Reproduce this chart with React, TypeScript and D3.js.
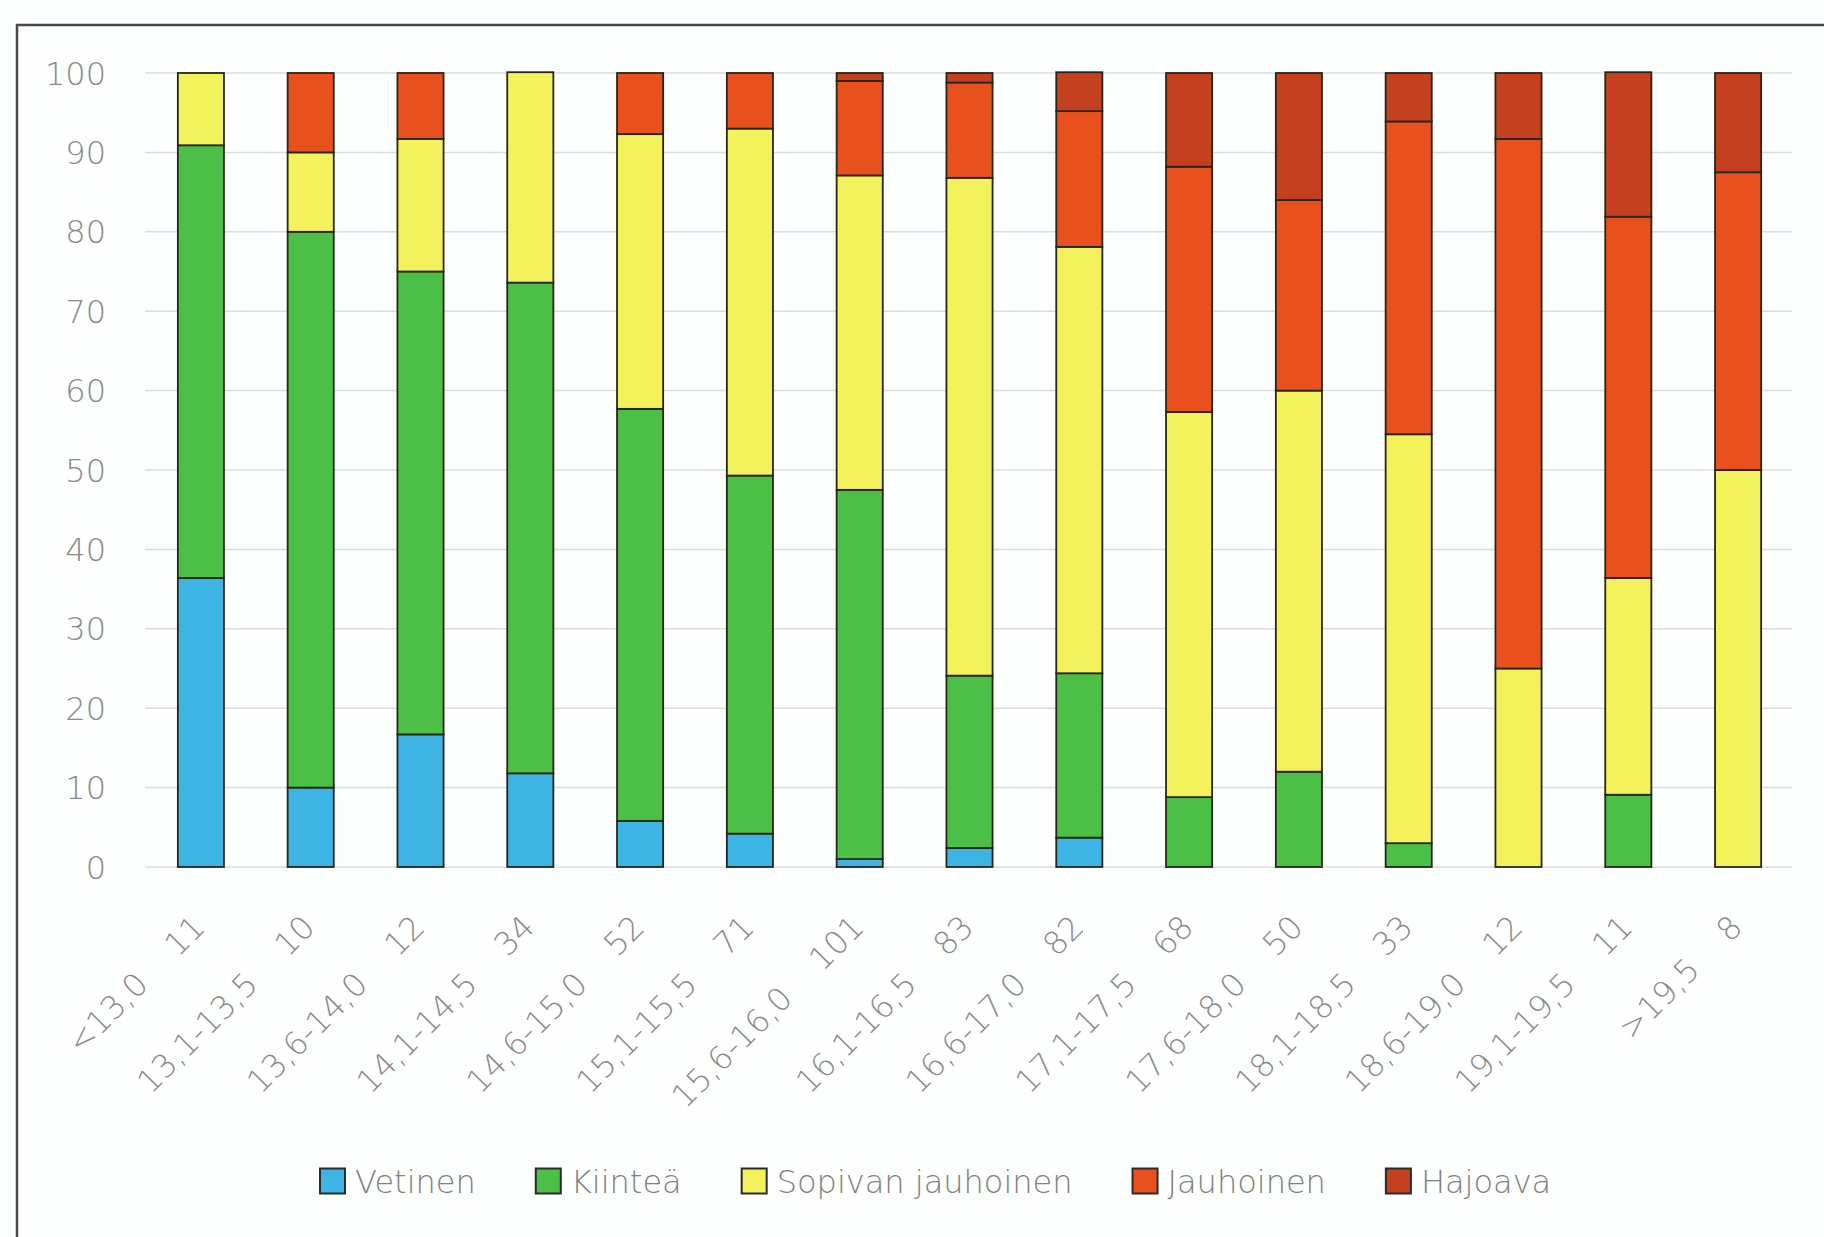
import * as React from 'react';
import * as d3 from 'd3';

const categories = ['<13,0', '13,1-13,5', '13,6-14,0', '14,1-14,5', '14,6-15,0', '15,1-15,5', '15,6-16,0',
  '16,1-16,5', '16,6-17,0', '17,1-17,5', '17,6-18,0', '18,1-18,5', '18,6-19,0', '19,1-19,5', '>19,5'];
const counts = [11, 10, 12, 34, 52, 71, 101, 83, 82, 68, 50, 33, 12, 11, 8];

const vetinen = [36.4, 10, 16.7, 11.8, 5.8, 4.2, 1.0, 2.4, 3.7, 0, 0, 0, 0, 0, 0];
const kiintea = [54.5, 70, 58.3, 61.8, 51.9, 45.1, 46.5, 21.7, 20.7, 8.8, 12, 3.0, 0, 9.1, 0];
const sopivan = [9.1, 10, 16.7, 26.5, 34.6, 43.7, 39.6, 62.7, 53.7, 48.5, 48, 51.5, 25, 27.3, 50];
const jauhoinen = [0, 10, 8.3, 0, 7.7, 7.0, 11.9, 12.0, 17.1, 30.9, 24, 39.4, 66.7, 45.5, 37.5];
const hajoava = [0, 0, 0, 0, 0, 0, 1.0, 1.2, 4.9, 11.8, 16, 6.1, 8.3, 18.2, 12.5];

const seriesNames = ['Vetinen', 'Kiinteä', 'Sopivan jauhoinen', 'Jauhoinen', 'Hajoava'];
const seriesValues = [vetinen, kiintea, sopivan, jauhoinen, hajoava];
const seriesColors = ['#3db4e4', '#4cbf47', '#f4f25c', '#e8501d', '#c4401f'];
const yTicks = [0, 10, 20, 30, 40, 50, 60, 70, 80, 90, 100];

const W = 1824;
const H = 1237;
const plotLeft = 145;
const plotRight = 1792;
const font = "'DejaVu Sans', 'Liberation Sans', sans-serif";

export default function App() {
  const legendRef = React.useRef() as React.MutableRefObject<any>;

  const x = d3.scaleBand<string>().domain(categories).range([plotLeft + 1, plotRight + 1])
    .paddingInner(0.58).paddingOuter(0.29);
  const y = d3.scaleLinear().domain([0, 100]).range([867, 73]);

  const rows = categories.map((c, i) => {
    const r: any = { cat: c };
    seriesNames.forEach((s, k) => { r[s] = seriesValues[k][i]; });
    return r;
  });
  const stacked = d3.stack().keys(seriesNames)(rows);

  // lay out legend items using measured text widths
  React.useEffect(() => {
    const g = d3.select(legendRef.current);
    let cx = 320;
    g.selectAll('g.item').each(function () {
      const item = d3.select(this);
      item.attr('transform', `translate(${cx},0)`);
      const t = item.select('text').node() as SVGTextElement;
      cx += 35 + t.getComputedTextLength() + 60;
    });
  }, []);

  return (
    <svg width={W} height={H} style={{ position: 'absolute', left: 0, top: 0, background: '#fdfefe' }}>
      <rect x={17} y={25} width={W} height={H} fill="#fdfefe" stroke="#4a4a4a" strokeWidth={2.5} />

      {yTicks.map(t => (
        <g key={t}>
          <line x1={plotLeft} x2={plotRight} y1={y(t)} y2={y(t)} stroke="#dcdcdc" strokeWidth={1.5} />
          <text x={106} y={y(t)} dy="0.36em" textAnchor="end" fontFamily={font} fontWeight={200}
            fontSize={32} fill="#8a8a8a">{t}</text>
        </g>
      ))}

      {stacked.map((layer, k) => (
        <g key={layer.key} fill={seriesColors[k]} stroke="#262618" strokeWidth={1.8}>
          {layer.filter(d => d[1] - d[0] > 0).map(d => (
            <rect key={d.data.cat as string} x={x(d.data.cat as string)} width={x.bandwidth()}
              y={y(d[1])} height={y(d[0]) - y(d[1])} />
          ))}
        </g>
      ))}

      {categories.map((c, i) => (
        <text key={c} transform={`translate(${(x(c) as number) + x.bandwidth() / 2 + 6},${y(0) + 62}) rotate(-45)`}
          textAnchor="end" fontFamily={font} fontWeight={200} fontSize={32} fill="#8a8a8a">
          {c}<tspan dx={40}>{counts[i]}</tspan>
        </text>
      ))}

      <g ref={legendRef} transform="translate(0,1181)">
        {seriesNames.map((s, k) => (
          <g className="item" key={s}>
            <rect x={0} y={-12.5} width={25} height={25} fill={seriesColors[k]} stroke="#2a2a2a" strokeWidth={2} />
            <text x={35} y={0} dy="0.36em" fontFamily={font} fontWeight={200} fontSize={32} fill="#808080">{s}</text>
          </g>
        ))}
      </g>
    </svg>
  );
}
